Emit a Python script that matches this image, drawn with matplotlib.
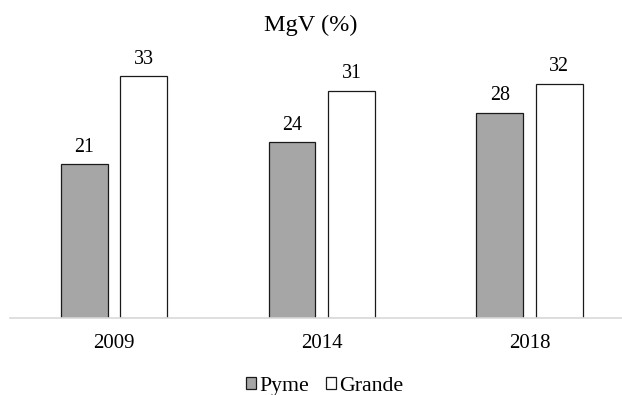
import matplotlib
matplotlib.use("Agg")
import matplotlib.pyplot as plt
import numpy as np

years = ["2009", "2014", "2018"]
pyme = [21, 24, 28]
grande = [33, 31, 32]
series_names = ["Pyme", "Grande"]
title = "MgV (%)"

plt.rcParams["font.family"] = ["Liberation Serif", "DejaVu Serif"]
FS = 14.4

fig = plt.figure(figsize=(6.22, 3.95), dpi=100)
ax = fig.add_axes([0.0164, 0.1957, 1.0017, 0.648])

x = np.arange(len(years))
w = 0.226
off = 0.143
b1 = ax.bar(x - off, pyme, w, color="#a6a6a6", edgecolor="#1a1a1a", linewidth=0.9, label=series_names[0])
b2 = ax.bar(x + off, grande, w, color="white", edgecolor="#1a1a1a", linewidth=0.9, label=series_names[1])

for bars, vals in ((b1, pyme), (b2, grande)):
    for r, v in zip(bars, vals):
        ax.annotate(str(v), (r.get_x() + r.get_width() / 2, v), xytext=(0, 9),
                    textcoords="offset points", ha="center", va="baseline", fontsize=FS)

ax.set_xlim(-0.5, 2.5)
ax.set_ylim(0, 35)
ax.set_xticks(x)
ax.set_xticklabels(years, fontsize=15)
ax.tick_params(axis="x", length=0, pad=12)
ax.set_yticks([])
for s in ("top", "right", "left"):
    ax.spines[s].set_visible(False)
ax.spines["bottom"].set_color("#d9d9d9")
ax.spines["bottom"].set_linewidth(1.2)

fig.text(0.5, (395 - 31) / 395, title, ha="center", va="baseline", fontsize=17.5)

fig.legend(handles=[b1, b2], labels=series_names, loc="center", bbox_to_anchor=(0.5225, 0.022),
           ncol=2, frameon=False, fontsize=15.7, handlelength=0.46, handleheight=0.46,
           handletextpad=0.15, columnspacing=0.77, borderaxespad=0)

fig.savefig("out.png", dpi=100)
